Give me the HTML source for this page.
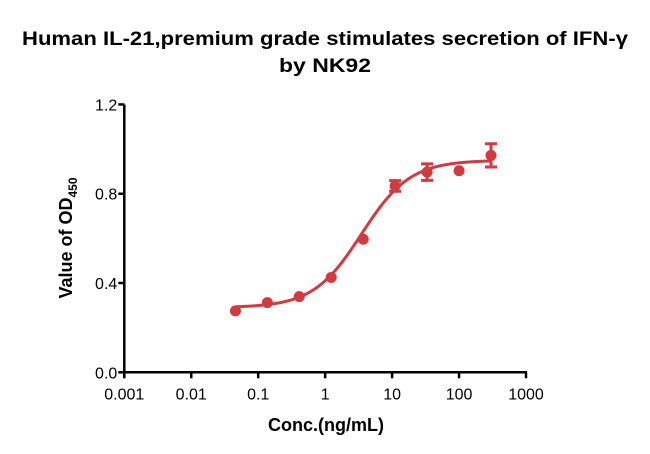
<!DOCTYPE html>
<html><head><meta charset="utf-8"><style>
body{margin:0;background:#fff;}
svg{display:block;font-family:"Liberation Sans",Arial,sans-serif;}
</style></head><body>
<svg id="chart" width="650" height="454" viewBox="0 0 650 454">
<text x="325" y="45" text-anchor="middle" font-size="19" font-weight="bold" textLength="606" lengthAdjust="spacingAndGlyphs">Human IL-21,premium grade stimulates secretion of IFN-γ</text>
<text x="325" y="72" text-anchor="middle" font-size="19" font-weight="bold" textLength="92" lengthAdjust="spacingAndGlyphs">by NK92</text>
<text transform="translate(72,238) rotate(-90)" text-anchor="middle" font-size="18" font-weight="bold">Value of OD<tspan font-size="12" dy="5">450</tspan></text>
<text x="326" y="431" text-anchor="middle" font-size="18" font-weight="bold">Conc.(ng/mL)</text>
<g id="axes"></g><g id="marks"></g>
</svg>
<script>
const xTicks=[0.001,0.01,0.1,1,10,100,1000];
const xTickLabels=["0.001","0.01","0.1","1","10","100","1000"];
const yTicks=[0,0.4,0.8,1.2];
const yTickLabels=["0.0","0.4","0.8","1.2"];
const conc=[0.0457,0.137,0.41,1.23,3.7,11.1,33.3,100,300];
const od=[0.275,0.312,0.339,0.425,0.596,0.835,0.897,0.903,0.972];
const err=[0,0,0,0,0,0.024,0.037,0,0.052];
const fitParams=[0.29,0.95,3.5,1.2];
const NS="http://www.w3.org/2000/svg";
const X0=124.3,XPD=66.95,Y0=372.3,YPU=223.2;
const xs=v=>X0+(Math.log10(v)+3)*XPD;
const ys=v=>Y0-v*YPU;
function mk(t,a,p){const e=document.createElementNS(NS,t);for(const k in a)e.setAttribute(k,a[k]);p.appendChild(e);return e;}
const ax=document.getElementById('axes'),mg=document.getElementById('marks');
let e=mk('line',{x1:X0,y1:ys(1.2),x2:X0,y2:Y0+1,stroke:'#000','stroke-width':2.5},ax);

e=mk('line',{x1:X0-1,y1:Y0,x2:xs(1000)+1,y2:Y0,stroke:'#000','stroke-width':2.5},ax);

xTicks.forEach((v,i)=>{
 e=mk('line',{x1:xs(v),y1:Y0,x2:xs(v),y2:Y0+6,stroke:'#000','stroke-width':2.5},ax);
 
 e=mk('text',{x:xs(v),y:Y0+27,'text-anchor':'middle','font-size':16},ax);e.textContent=xTickLabels[i];
 
});
yTicks.forEach((v,i)=>{
 e=mk('line',{x1:X0-6,y1:ys(v),x2:X0,y2:ys(v),stroke:'#000','stroke-width':2.5},ax);
 
 e=mk('text',{x:X0-7,y:ys(v)+6,'text-anchor':'end','font-size':16},ax);e.textContent=yTickLabels[i];
 
});
const [b,t,ec,h]=fitParams;
let d='';
const lo=Math.log10(conc[0]),hi=Math.log10(conc[conc.length-1]);
for(let i=0;i<=200;i++){const lx=lo+(hi-lo)*i/200,c=Math.pow(10,lx);const y=b+(t-b)/(1+Math.pow(ec/c,h));d+=(i?'L':'M')+xs(c).toFixed(2)+','+ys(y).toFixed(2);}
e=mk('path',{d:d,fill:'none',stroke:'#d13a3f','stroke-width':3},mg);

conc.forEach((c,i)=>{
 const x=xs(c);
 if(err[i]>0){
  const y1=ys(od[i]+err[i]),y2=ys(od[i]-err[i]);
  e=mk('path',{d:`M${x},${y1}L${x},${y2}M${x-6},${y1}L${x+6},${y1}M${x-6},${y2}L${x+6},${y2}`,stroke:'#d13a3f','stroke-width':3,fill:'none'},mg);
  
 }
 e=mk('circle',{cx:x,cy:ys(od[i]),r:5.5,fill:'#d13a3f'},mg);
 
});
</script>
</body></html>
